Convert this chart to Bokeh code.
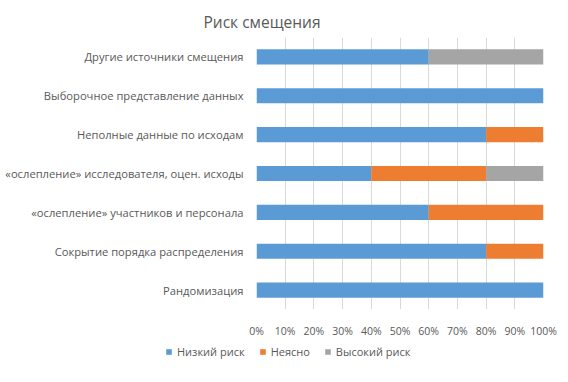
from bokeh.plotting import figure
from bokeh.layouts import column, row
from bokeh.models import FactorRange, Range1d, FixedTicker, Legend, LegendItem, Title
from bokeh.embed import file_html
from bokeh.resources import INLINE

categories = [
    "Другие источники смещения",
    "Выборочное представление данных",
    "Неполные данные по исходам",
    "«ослепление» исследователя, оцен. исходы",
    "«ослепление» участников и персонала",
    "Сокрытие порядка распределения",
    "Рандомизация",
]
low = [60, 100, 80, 40, 60, 80, 100]
unclear = [0, 0, 20, 40, 40, 20, 0]
high = [40, 0, 0, 20, 0, 0, 0]
series_names = ["Низкий риск", "Неясно", "Высокий риск"]
colors = ["#5B9BD5", "#ED7D31", "#A5A5A5"]
tick_values = [0, 10, 20, 30, 40, 50, 60, 70, 80, 90, 100]
tick_labels = ["0%", "10%", "20%", "30%", "40%", "50%", "60%", "70%", "80%", "90%", "100%"]

FONT = "Open Sans"
TXT = "#595959"

factors = list(reversed(categories))
data = {
    "cat": factors,
    "low": list(reversed(low)),
    "unclear": list(reversed(unclear)),
    "high": list(reversed(high)),
}

p = figure(width=560, height=340, y_range=FactorRange(factors=factors, range_padding=0),
           x_range=Range1d(0, 100), output_backend="svg", toolbar_location=None,
           min_border_left=256, min_border_right=17, min_border_top=37, min_border_bottom=27)

rs = p.hbar_stack(["low", "unclear", "high"], y="cat", height=0.39, color=colors,
                  source=data, line_color=None)

p.outline_line_color = None
p.ygrid.grid_line_color = None
p.xgrid.grid_line_color = "#D9D9D9"
p.xgrid.grid_line_width = 1

p.xaxis.ticker = FixedTicker(ticks=tick_values)
p.xaxis.major_label_overrides = {v: l for v, l in zip(tick_values, tick_labels)}
p.xaxis.axis_line_color = None
p.xaxis.major_tick_line_color = None
p.xaxis.minor_tick_line_color = None
p.xaxis.major_label_standoff = 8
p.xaxis.major_label_text_font = FONT
p.xaxis.major_label_text_font_size = "10.5px"
p.xaxis.major_label_text_color = TXT

p.yaxis.axis_line_color = None
p.yaxis.major_tick_line_color = None
p.yaxis.minor_tick_line_color = None
p.yaxis.major_label_standoff = 7
p.yaxis.major_label_text_font = FONT
p.yaxis.major_label_text_font_size = "11.2px"
p.yaxis.major_label_text_color = TXT

p.title = Title(text="Риск смещения", align="left", offset=-53, standoff=10,
                text_font=FONT, text_font_size="15.5px", text_font_style="normal",
                text_color=TXT)

# legend strip below the chart (separate figure, not frame-aligned with the chart)
lg = figure(width=560, height=34, x_range=Range1d(0, 1), y_range=Range1d(0, 1),
            output_backend="svg", toolbar_location=None, x_axis_type=None, y_axis_type=None,
            min_border_left=0, min_border_right=0, min_border_top=0, min_border_bottom=0)
lg.outline_line_color = None
lg.grid.visible = False
dummies = [lg.hbar(y=[5], right=[5], left=[4], height=0.5, color=c, line_color=None)
           for c in colors]
legend = Legend(items=[LegendItem(label=n, renderers=[r]) for n, r in zip(series_names, dummies)],
                orientation="horizontal", location=(165, 15),
                glyph_width=7, glyph_height=7, label_text_font=FONT,
                label_text_font_size="11px", label_text_color=TXT,
                background_fill_alpha=0, border_line_color=None,
                spacing=14, padding=0, label_standoff=5, margin=0)
lg.add_layout(legend, "center")

layout = column(p, row(lg), spacing=0)
open("out.html", "w").write(file_html(layout, INLINE))
